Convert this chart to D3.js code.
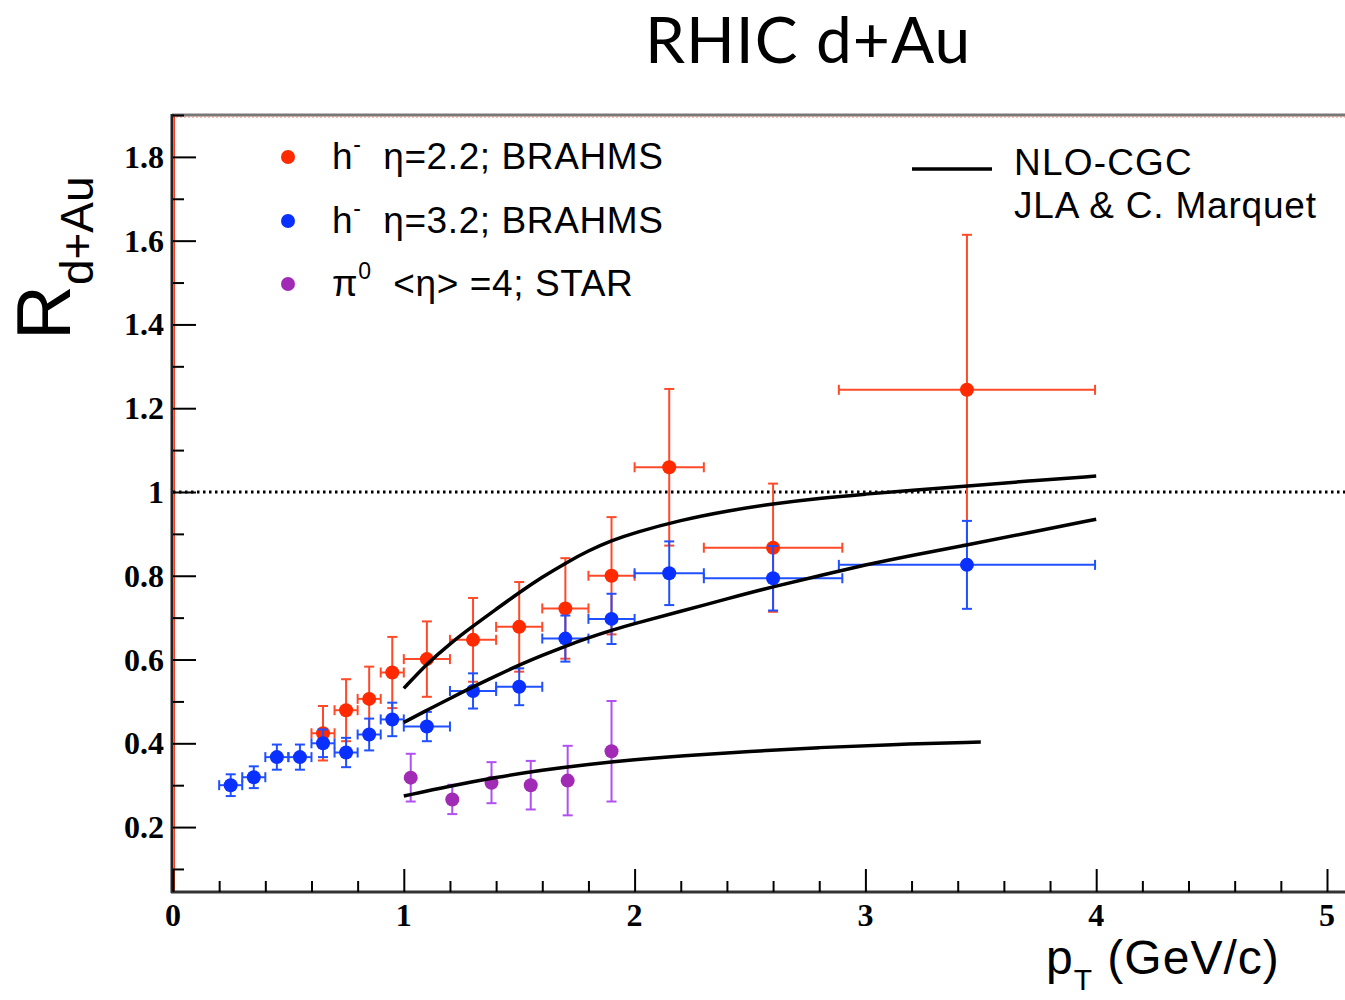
<!DOCTYPE html>
<html>
<head>
<meta charset="utf-8">
<script src="https://cdn.jsdelivr.net/npm/d3@7"></script>
<style>
  body { margin: 0; background: #fff; }
  svg { display: block; }
</style>
</head>
<body>
<svg id="chart" width="1345" height="1000"></svg>
<script>
// BRAHMS h- eta=2.2
const redPt = [0.65, 0.75, 0.85, 0.95, 1.1, 1.3, 1.5, 1.7, 1.9, 2.15, 2.6, 3.44];
const redR = [0.424, 0.479, 0.506, 0.569, 0.601, 0.647, 0.678, 0.722, 0.80, 1.059, 0.867, 1.244];
const redErrY = [0.065, 0.074, 0.077, 0.085, 0.09, 0.1, 0.107, 0.12, 0.14, 0.187, 0.153, 0.37];
const redErrX = [0.05, 0.05, 0.05, 0.05, 0.1, 0.1, 0.1, 0.1, 0.1, 0.15, 0.3, 0.555];

// BRAHMS h- eta=3.2
const bluePt = [0.25, 0.35, 0.45, 0.55, 0.65, 0.75, 0.85, 0.95, 1.1, 1.3, 1.5, 1.7, 1.9, 2.15, 2.6, 3.44];
const blueR = [0.300, 0.319, 0.367, 0.367, 0.40, 0.378, 0.421, 0.457, 0.44, 0.525, 0.535, 0.65, 0.697, 0.806, 0.794, 0.826];
const blueErrY = [0.026, 0.026, 0.03, 0.03, 0.033, 0.035, 0.038, 0.04, 0.035, 0.042, 0.044, 0.055, 0.06, 0.076, 0.077, 0.105];
const blueErrX = [0.05, 0.05, 0.05, 0.05, 0.05, 0.05, 0.05, 0.05, 0.1, 0.1, 0.1, 0.1, 0.1, 0.15, 0.3, 0.555];

// STAR pi0 <eta>=4
const purplePt = [1.03, 1.21, 1.38, 1.55, 1.71, 1.9];
const purpleR = [0.318, 0.266, 0.306, 0.30, 0.311, 0.381];
const purpleErrY = [0.057, 0.035, 0.049, 0.058, 0.083, 0.12];

// NLO-CGC curves
const cgc22Pt = [1.0, 1.1, 1.2, 1.3, 1.4, 1.5, 1.6, 1.7, 1.8, 1.9, 2.0, 2.2, 2.4, 2.6, 2.8, 3.0, 3.2, 3.44, 3.7, 4.0];
const cgc22R = [0.531, 0.590, 0.638, 0.680, 0.720, 0.760, 0.797, 0.830, 0.860, 0.884, 0.903, 0.933, 0.955, 0.972, 0.985, 0.995, 1.004, 1.014, 1.026, 1.038];
const cgc32Pt = [1.0, 1.1, 1.2, 1.3, 1.4, 1.5, 1.6, 1.7, 1.8, 1.9, 2.0, 2.2, 2.4, 2.6, 2.8, 3.0, 3.2, 3.44, 3.7, 4.0];
const cgc32R = [0.45, 0.479, 0.507, 0.535, 0.561, 0.587, 0.61, 0.632, 0.652, 0.670, 0.686, 0.715, 0.745, 0.774, 0.80, 0.826, 0.849, 0.873, 0.902, 0.935];
const cgc4Pt = [1.0, 1.2, 1.4, 1.6, 1.8, 2.0, 2.2, 2.5, 2.8, 3.1, 3.5];
const cgc4R = [0.274, 0.298, 0.319, 0.336, 0.350, 0.361, 0.370, 0.381, 0.390, 0.397, 0.403];

const xMajor = [0, 1, 2, 3, 4, 5];
const yMajor = [0.2, 0.4, 0.6, 0.8, 1.0, 1.2, 1.4, 1.6, 1.8];

const svg = d3.select("#chart");

const x = d3.scaleLinear().domain([0, 5]).range([173, 1327]);
const y = d3.scaleLinear().domain([0.045, 1.9]).range([892, 115]);

const red = "#ff2a00", redBar = "#ff4a2a";
const blue = "#0a30ff", blueBar = "#2050ff";
const purple = "#a22bb5", purpleBar = "#b050f0";

// Title
svg.append("text")
    .attr("x", 808)
    .attr("y", 63)
    .attr("text-anchor", "middle")
    .attr("font-family", "Lato, 'Open Sans', sans-serif")
    .attr("font-size", 64)
    .attr("letter-spacing", 1)
    .text("RHIC d+Au");

// Frame
svg.append("line").attr("x1", 172).attr("x2", 1345).attr("y1", 115).attr("y2", 115)
    .attr("stroke", "#777").attr("stroke-width", 3);
svg.append("line").attr("x1", 172).attr("x2", 1345).attr("y1", 117).attr("y2", 117)
    .attr("stroke", "#f08a70").attr("stroke-width", 1).attr("stroke-dasharray", "2,2");
svg.append("line").attr("x1", 172).attr("x2", 172).attr("y1", 114).attr("y2", 893)
    .attr("stroke", "#222").attr("stroke-width", 3);
svg.append("line").attr("x1", 174.5).attr("x2", 174.5).attr("y1", 116).attr("y2", 891)
    .attr("stroke", "#ff3a1a").attr("stroke-width", 1);
svg.append("line").attr("x1", 171).attr("x2", 1345).attr("y1", 892).attr("y2", 892)
    .attr("stroke", "#333").attr("stroke-width", 3);

// Y axis ticks
const yAxis = d3.axisRight(y)
    .tickValues(d3.range(0.1, 1.95, 0.1))
    .tickSize(0)
    .tickFormat("");
const yG = svg.append("g").attr("transform", "translate(173,0)").call(yAxis);
yG.select(".domain").remove();
yG.selectAll(".tick").append("line")
    .attr("x2", d => yMajor.some(v => Math.abs(v - d) < 1e-6) ? 23 : 11)
    .attr("stroke", "#000").attr("stroke-width", 2);

svg.append("g").selectAll("text")
    .data(yMajor)
    .join("text")
    .attr("x", 164)
    .attr("y", d => y(d) + 11)
    .attr("text-anchor", "end")
    .attr("font-family", "'Liberation Serif', 'Times New Roman', serif")
    .attr("font-weight", "bold")
    .attr("font-size", 32)
    .text(d => d3.format("")(+d.toFixed(1)));

// X axis ticks
const xAxis = d3.axisTop(x)
    .tickValues(d3.range(0, 5.01, 0.2))
    .tickSize(0)
    .tickFormat("");
const xG = svg.append("g").attr("transform", "translate(0,892)").call(xAxis);
xG.select(".domain").remove();
xG.selectAll(".tick").append("line")
    .attr("y2", d => Math.abs(d - Math.round(d)) < 1e-6 ? -23 : -11)
    .attr("stroke", "#000").attr("stroke-width", 2);

svg.append("g").selectAll("text")
    .data(xMajor)
    .join("text")
    .attr("x", d => x(d))
    .attr("y", 926)
    .attr("text-anchor", "middle")
    .attr("font-family", "'Liberation Serif', 'Times New Roman', serif")
    .attr("font-weight", "bold")
    .attr("font-size", 32)
    .text(d => d);

// Axis titles
const yTitle = svg.append("text")
    .attr("transform", "translate(70,340) rotate(-90)")
    .attr("font-family", "'Liberation Sans', Arial, sans-serif")
    .attr("font-size", 76);
yTitle.append("tspan").text("R");
yTitle.append("tspan").attr("font-size", 46).attr("dy", 23).text("d+Au");

const xTitle = svg.append("text")
    .attr("x", 1046)
    .attr("y", 974)
    .attr("font-family", "'Liberation Sans', Arial, sans-serif")
    .attr("font-size", 48)
    .attr("letter-spacing", 1);
xTitle.append("tspan").text("p");
xTitle.append("tspan").attr("font-size", 30).attr("dy", 16).text("T");
xTitle.append("tspan").attr("dy", -16).text(" (GeV/c)");

// Reference line at 1
svg.append("line")
    .attr("x1", x(0)).attr("x2", 1345)
    .attr("y1", y(1)).attr("y2", y(1))
    .attr("stroke", "#000").attr("stroke-width", 3)
    .attr("stroke-dasharray", "2.5,3.5");

// Error bars + markers
const cap = 5;
function drawSeries(pt, r, ey, ex, color, barColor) {
    const g = svg.append("g");
    const rows = pt.map((p, i) => ({ p, r: r[i], ey: ey[i], ex: ex ? ex[i] : 0 }));
    const bars = g.selectAll(".bar").data(rows).join("g").attr("class", "bar")
        .attr("stroke", barColor).attr("stroke-width", 2).attr("fill", "none");
    bars.append("line")
        .attr("x1", d => x(d.p)).attr("x2", d => x(d.p))
        .attr("y1", d => y(d.r + d.ey)).attr("y2", d => y(d.r - d.ey));
    bars.append("line")
        .attr("x1", d => x(d.p) - cap).attr("x2", d => x(d.p) + cap)
        .attr("y1", d => y(d.r + d.ey)).attr("y2", d => y(d.r + d.ey));
    bars.append("line")
        .attr("x1", d => x(d.p) - cap).attr("x2", d => x(d.p) + cap)
        .attr("y1", d => y(d.r - d.ey)).attr("y2", d => y(d.r - d.ey));
    if (ex) {
        bars.append("line")
            .attr("x1", d => x(d.p - d.ex)).attr("x2", d => x(d.p + d.ex))
            .attr("y1", d => y(d.r)).attr("y2", d => y(d.r));
        bars.append("line")
            .attr("x1", d => x(d.p - d.ex)).attr("x2", d => x(d.p - d.ex))
            .attr("y1", d => y(d.r) - cap).attr("y2", d => y(d.r) + cap);
        bars.append("line")
            .attr("x1", d => x(d.p + d.ex)).attr("x2", d => x(d.p + d.ex))
            .attr("y1", d => y(d.r) - cap).attr("y2", d => y(d.r) + cap);
    }
    g.selectAll(".dot").data(rows).join("circle").attr("class", "dot")
        .attr("cx", d => x(d.p)).attr("cy", d => y(d.r))
        .attr("r", 7).attr("fill", color);
}

drawSeries(redPt, redR, redErrY, redErrX, red, redBar);
drawSeries(bluePt, blueR, blueErrY, blueErrX, blue, blueBar);
drawSeries(purplePt, purpleR, purpleErrY, null, purple, purpleBar);

// Theory curves
const line = d3.line().x(d => x(d[0])).y(d => y(d[1])).curve(d3.curveBasis);
[[cgc22Pt, cgc22R], [cgc32Pt, cgc32R], [cgc4Pt, cgc4R]].forEach(([pt, r]) => {
    svg.append("path")
        .datum(pt.map((p, i) => [p, r[i]]))
        .attr("d", line)
        .attr("fill", "none")
        .attr("stroke", "#000")
        .attr("stroke-width", 3.5);
});

// Legend
const legendItems = [
    { color: red, y: 157, main: "h", sup: "-", rest: "  η=2.2; BRAHMS" },
    { color: blue, y: 221, main: "h", sup: "-", rest: "  η=3.2; BRAHMS" },
    { color: purple, y: 284, main: "π", sup: "0", rest: "  <η> =4; STAR" }
];
const leg = svg.append("g").selectAll("g").data(legendItems).join("g");
leg.append("circle").attr("cx", 288).attr("cy", d => d.y).attr("r", 7).attr("fill", d => d.color);
const legText = leg.append("text")
    .attr("x", 332)
    .attr("y", d => d.y + 12)
    .attr("font-family", "'Liberation Sans', Arial, sans-serif")
    .attr("font-size", 37)
    .attr("letter-spacing", 0.6)
    .attr("xml:space", "preserve")
    .style("white-space", "pre");
legText.append("tspan").text(d => d.main);
legText.append("tspan").attr("font-size", 23).attr("dy", -17).text(d => d.sup);
legText.append("tspan").attr("dy", 17).text(d => d.rest);

svg.append("line").attr("x1", 912).attr("x2", 992).attr("y1", 169).attr("y2", 169)
    .attr("stroke", "#000").attr("stroke-width", 3.5);
svg.append("text").attr("x", 1014).attr("y", 175)
    .attr("font-family", "'Liberation Sans', Arial, sans-serif")
    .attr("font-size", 37).attr("letter-spacing", 1.2).text("NLO-CGC");
svg.append("text").attr("x", 1014).attr("y", 218)
    .attr("font-family", "'Liberation Sans', Arial, sans-serif")
    .attr("font-size", 37).attr("letter-spacing", 0.8).text("JLA & C. Marquet");
</script>
</body>
</html>
